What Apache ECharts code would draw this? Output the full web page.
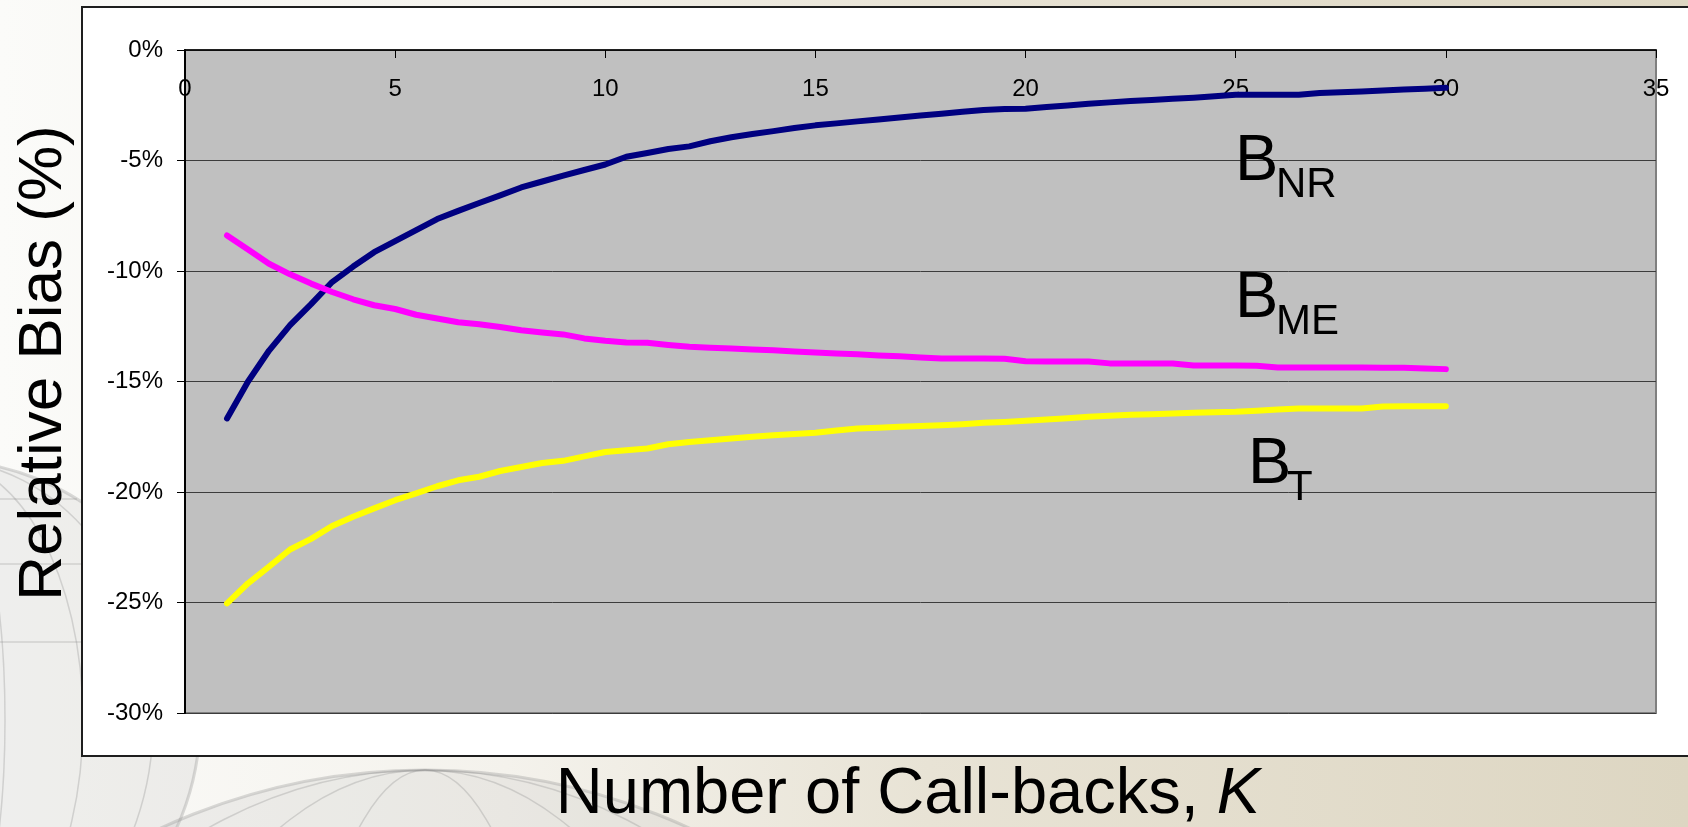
<!DOCTYPE html>
<html>
<head>
<meta charset="utf-8">
<title>Relative Bias vs Number of Call-backs</title>
<script src="https://cdn.jsdelivr.net/npm/echarts@6/dist/echarts.min.js"></script>
<style>
  html, body { margin: 0; padding: 0; width: 1688px; height: 827px; overflow: hidden; background: #f6f4ee; }
  #chart { width: 1688px; height: 827px; }
</style>
</head>
<body>
<div id="chart"></div>
<script>
// Number of call-backs K
const callbacks = [1, 1.5, 2, 2.5, 3, 3.5, 4, 4.5, 5, 5.5, 6, 6.5, 7, 7.5, 8, 8.5, 9, 9.5, 10,
  10.5, 11, 11.5, 12, 12.5, 13, 13.5, 14, 14.5, 15, 15.5, 16, 16.5, 17, 17.5, 18, 18.5, 19, 19.5, 20,
  20.5, 21, 21.5, 22, 22.5, 23, 23.5, 24, 24.5, 25, 25.5, 26, 26.5, 27, 27.5, 28, 28.5, 29, 29.5, 30];

// Relative bias (%) – nonresponse component
const biasNR = [-16.67, -15.0, -13.6, -12.45, -11.5, -10.5, -9.8, -9.15, -8.65, -8.15, -7.65, -7.28, -6.92, -6.58,
  -6.22, -5.95, -5.68, -5.43, -5.18, -4.83, -4.66, -4.48, -4.36, -4.13, -3.95, -3.8, -3.67, -3.53, -3.41,
  -3.32, -3.23, -3.14, -3.05, -2.96, -2.88, -2.79, -2.71, -2.67, -2.66, -2.58, -2.51, -2.43, -2.37, -2.31,
  -2.26, -2.21, -2.16, -2.09, -2.03, -2.03, -2.03, -2.03, -1.95, -1.91, -1.88, -1.83, -1.79, -1.75, -1.71];

// Relative bias (%) – measurement error component
const biasME = [-8.39, -9.03, -9.67, -10.15, -10.57, -10.95, -11.28, -11.55, -11.72, -11.98, -12.15, -12.32, -12.41,
  -12.53, -12.68, -12.78, -12.87, -13.05, -13.16, -13.24, -13.25, -13.35, -13.43, -13.47, -13.51, -13.55,
  -13.59, -13.64, -13.69, -13.73, -13.77, -13.82, -13.86, -13.91, -13.96, -13.96, -13.96, -13.97, -14.08,
  -14.1, -14.1, -14.1, -14.18, -14.19, -14.19, -14.19, -14.28, -14.28, -14.28, -14.29, -14.37, -14.37,
  -14.37, -14.37, -14.37, -14.38, -14.38, -14.41, -14.44];

// Relative bias (%) – total
const biasT = [-25.04, -24.13, -23.38, -22.6, -22.12, -21.54, -21.12, -20.74, -20.37, -20.06, -19.74, -19.47, -19.31,
  -19.05, -18.87, -18.69, -18.59, -18.39, -18.19, -18.11, -18.03, -17.84, -17.74, -17.66, -17.58, -17.5,
  -17.43, -17.38, -17.32, -17.22, -17.13, -17.09, -17.05, -17.01, -16.98, -16.93, -16.87, -16.83, -16.78,
  -16.72, -16.66, -16.6, -16.55, -16.51, -16.48, -16.45, -16.41, -16.39, -16.37, -16.32, -16.27, -16.22,
  -16.22, -16.22, -16.22, -16.13, -16.12, -16.12, -16.12];

const FONT = "'Liberation Sans', Arial, Helvetica, sans-serif";

function pairs(xs, ys) {
  return xs.map((x, i) => [x, ys[i]]);
}

function lineSeries(name, values, color) {
  return {
    name: name,
    type: 'line',
    data: pairs(callbacks, values),
    showSymbol: false,
    symbol: 'none',
    smooth: false,
    animation: false,
    lineStyle: { color: color, width: 6, cap: 'round', join: 'round' },
    z: 5
  };
}

// faint globe watermark drawn behind the chart panel
function globe(cx, cy, r) {
  const stroke = 'rgba(140,140,140,0.3)';
  const parts = [{
    type: 'circle', z: -9,
    shape: { cx: cx, cy: cy, r: r },
    style: { fill: 'rgba(190,190,190,0.2)', stroke: stroke, lineWidth: 3 }
  }];
  [0.25, 0.55, 0.82].forEach(f => {
    parts.push({
      type: 'ellipse', z: -9,
      shape: { cx: cx, cy: cy, rx: r * f, ry: r },
      style: { fill: null, stroke: stroke, lineWidth: 1.5 }
    });
  });
  [0.3, 0.6, 0.85].forEach(f => {
    const dy = r * f;
    const half = Math.sqrt(r * r - dy * dy);
    parts.push({
      type: 'line', z: -9,
      shape: { x1: cx - half, y1: cy - dy, x2: cx + half, y2: cy - dy },
      style: { stroke: stroke, lineWidth: 1.5 }
    });
  });
  return parts;
}

const chart = echarts.init(document.getElementById('chart'), null, { renderer: 'canvas' });

const graphics = [
  {
    type: 'rect', z: -10,
    shape: { x: 0, y: 0, width: 1688, height: 827 },
    style: {
      fill: new echarts.graphic.LinearGradient(0, 0, 1, 0, [
        { offset: 0, color: '#fbfbf9' },
        { offset: 0.3, color: '#f4f2ec' },
        { offset: 0.55, color: '#e8e3d5' },
        { offset: 1, color: '#ddd6c2' }
      ])
    }
  },
  ...globe(-60, 720, 260),
  ...globe(425, 1400, 630),
  {
    type: 'rect', z: -8,
    shape: { x: 82, y: 7, width: 1640, height: 749 },
    style: { fill: '#ffffff', stroke: '#1e1e1e', lineWidth: 2 }
  },
  {
    type: 'text', z: 10,
    x: 44, y: 363, rotation: Math.PI / 2,
    style: {
      text: 'Relative Bias (%)',
      fontFamily: FONT, fontSize: 62,
      fill: '#000', align: 'center', verticalAlign: 'middle'
    }
  },
  {
    type: 'text', z: 10,
    x: 908, y: 795,
    style: {
      text: 'Number of Call-backs, {k|K}',
      fontFamily: FONT, fontSize: 65,
      fill: '#000', align: 'center', verticalAlign: 'middle',
      rich: { k: { fontFamily: FONT, fontSize: 65, fontStyle: 'italic', fill: '#000' } }
    }
  },
  // series labels
  { type: 'text', z: 20, x: 1235, y: 162, style: { text: 'B', fontFamily: FONT, fontSize: 65, fill: '#000', align: 'left', verticalAlign: 'middle' } },
  { type: 'text', z: 20, x: 1276, y: 185, style: { text: 'NR', fontFamily: FONT, fontSize: 42, fill: '#000', align: 'left', verticalAlign: 'middle' } },
  { type: 'text', z: 20, x: 1235, y: 299, style: { text: 'B', fontFamily: FONT, fontSize: 65, fill: '#000', align: 'left', verticalAlign: 'middle' } },
  { type: 'text', z: 20, x: 1276, y: 322, style: { text: 'ME', fontFamily: FONT, fontSize: 42, fill: '#000', align: 'left', verticalAlign: 'middle' } },
  { type: 'text', z: 20, x: 1248, y: 465, style: { text: 'B', fontFamily: FONT, fontSize: 65, fill: '#000', align: 'left', verticalAlign: 'middle' } },
  { type: 'text', z: 20, x: 1287, y: 488, style: { text: 'T', fontFamily: FONT, fontSize: 42, fill: '#000', align: 'left', verticalAlign: 'middle' } }
];

chart.setOption({
  animation: false,
  backgroundColor: 'transparent',
  textStyle: { fontFamily: FONT },
  grid: {
    left: 185, top: 50, right: 32, bottom: 114,
    show: true,
    backgroundColor: '#c0c0c0',
    borderColor: '#808080',
    borderWidth: 2,
    containLabel: false,
    z: 0
  },
  xAxis: {
    type: 'value',
    position: 'top',
    min: 0, max: 35, interval: 5,
    axisLine: { show: true, onZero: false, lineStyle: { color: '#000', width: 1.5 } },
    axisTick: { show: true, inside: true, length: 8, lineStyle: { color: '#000', width: 1 } },
    axisLabel: { inside: true, margin: 27, color: '#000', fontSize: 24, fontFamily: FONT },
    splitLine: { show: false }
  },
  yAxis: {
    type: 'value',
    min: -30, max: 0, interval: 5,
    axisLine: { show: true, onZero: false, lineStyle: { color: '#000', width: 2 } },
    axisTick: { show: true, inside: false, length: 8, lineStyle: { color: '#000', width: 1 } },
    axisLabel: { margin: 22, color: '#000', fontSize: 24, fontFamily: FONT, formatter: '{value}%' },
    splitLine: { show: true, lineStyle: { color: '#3c3c3c', width: 1 } }
  },
  series: [
    lineSeries('BNR', biasNR, '#000080'),
    lineSeries('BME', biasME, '#ff00ff'),
    lineSeries('BT', biasT, '#ffff00')
  ],
  graphic: { elements: graphics }
});
</script>
</body>
</html>
